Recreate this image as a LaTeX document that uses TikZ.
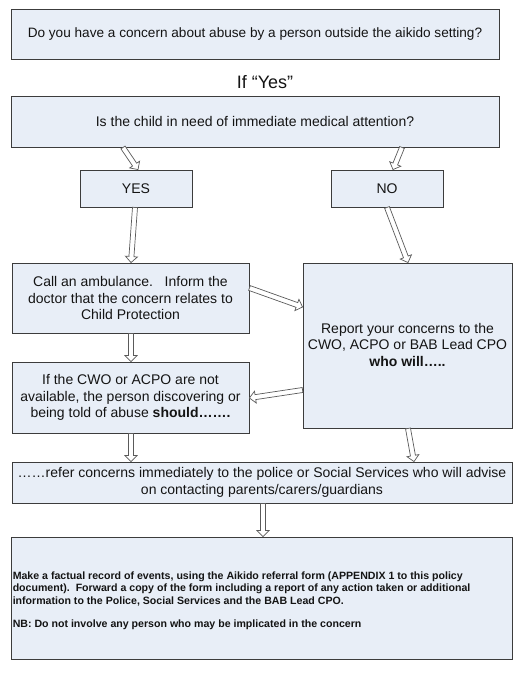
\documentclass[tikz,border=0pt]{standalone}
\usepackage{fontspec}
\setmainfont{Liberation Sans}
\usetikzlibrary{calc}
\definecolor{boxfill}{RGB}{232,238,247}
\definecolor{boxline}{RGB}{60,60,60}
\definecolor{arrline}{RGB}{90,90,90}
\definecolor{txt}{RGB}{20,20,20}
\newcommand\harrow[2]{%
  \coordinate (hs) at (#1);
  \coordinate (ht) at (#2);
  \coordinate (hh) at ($(ht)!6pt!(hs)$);
  \draw[hollowarr] ($(hs)!2.5pt!90:(ht)$) -- ($(hh)!2.5pt!90:(ht)$) -- ($(hh)!6pt!90:(ht)$) -- (ht)
     -- ($(hh)!6pt!-90:(ht)$) -- ($(hh)!2.5pt!-90:(ht)$) -- ($(hs)!2.5pt!-90:(ht)$) -- cycle;
}
\begin{document}
\begin{tikzpicture}[x=1pt,y=1pt,
  flowbox/.style={draw=boxline, fill=boxfill, line width=0.9pt, inner sep=0pt, anchor=center,
     text=txt, align=center, font=\fontsize{14}{16.8}\selectfont},
  hollowarr/.style={draw=arrline, fill=white, line width=0.7pt, line join=miter}]
\useasboundingbox (0,0) rectangle (530,-677);
\node[flowbox, minimum width=488pt, minimum height=50pt, font=\fontsize{13.6}{16.8}\selectfont] (top) at (255,-34)
  {Do you have a concern about abuse by a person outside the aikido setting?};
\node[text=txt, font=\fontsize{18}{21}\selectfont] (ifyes) at (265,-82) {If “Yes”};
\node[flowbox, minimum width=488pt, minimum height=51pt] (q) at (255,-121.5)
  {Is the child in need of immediate medical attention?};
\node[flowbox, minimum width=112pt, minimum height=37pt] (yes) at (136,-188.5) {YES};
\node[flowbox, minimum width=112pt, minimum height=37pt] (no) at (387,-188.5) {NO};
\node[flowbox, minimum width=237pt, minimum height=70pt] (call) at (130.5,-298)
  {Call an ambulance.\ \ \ Inform the\\doctor that the concern relates to\\Child Protection};
\node[flowbox, minimum width=209pt, minimum height=165pt] (rep) at (407.5,-345.5)
  {\\[-8pt]Report your concerns to the\\CWO, ACPO or BAB Lead CPO\\\textbf{who will…..}};
\node[flowbox, minimum width=237pt, minimum height=71pt] (ifc) at (130.5,-397.5)
  {If the CWO or ACPO are not\\available, the person discovering or\\being told of abuse \textbf{should…….}};
\node[flowbox, minimum width=500pt, minimum height=41pt] (refer) at (262,-482.5)
  {……refer concerns immediately to the police or Social Services who will advise\\on contacting parents/carers/guardians};
\node[flowbox, minimum width=501pt, minimum height=122pt] (last) at (261.5,-598) {};
\node[anchor=north west, inner sep=0pt, align=left, text=txt,
  font=\bfseries\fontsize{10.6}{12.5}\selectfont] (lasttext) at ([xshift=2pt,yshift=-35pt]last.north west)
  {Make a factual record of events, using the Aikido referral form (APPENDIX 1 to this policy\\
   document).\ \ Forward a copy of the form including a report of any action taken or additional\\
   information to the Police, Social Services and the BAB Lead CPO.\\[11pt]
   NB: Do not involve any person who may be implicated in the concern};
\harrow{[xshift=-132pt]q.south}{[xshift=2pt]yes.north}
\harrow{[xshift=147pt]q.south}{[xshift=6pt]no.north}
\harrow{[xshift=-1pt]yes.south}{[xshift=0.5pt]call.north}
\harrow{no.south}{[xshift=0.5pt]rep.north}
\harrow{[yshift=10pt]call.east}{[yshift=38.5pt]rep.west}
\harrow{[xshift=0.5pt]call.south}{[xshift=0.5pt]ifc.north}
\harrow{[yshift=-44.5pt]rep.west}{[yshift=-0.5pt]ifc.east}
\harrow{[xshift=0.5pt]ifc.south}{[xshift=-131pt]refer.north}
\harrow{[xshift=0.5pt]rep.south}{[xshift=6.5pt]rep.south |- refer.north}
\harrow{[xshift=1pt]refer.south}{[xshift=1.5pt]last.north}
\end{tikzpicture}
\end{document}
